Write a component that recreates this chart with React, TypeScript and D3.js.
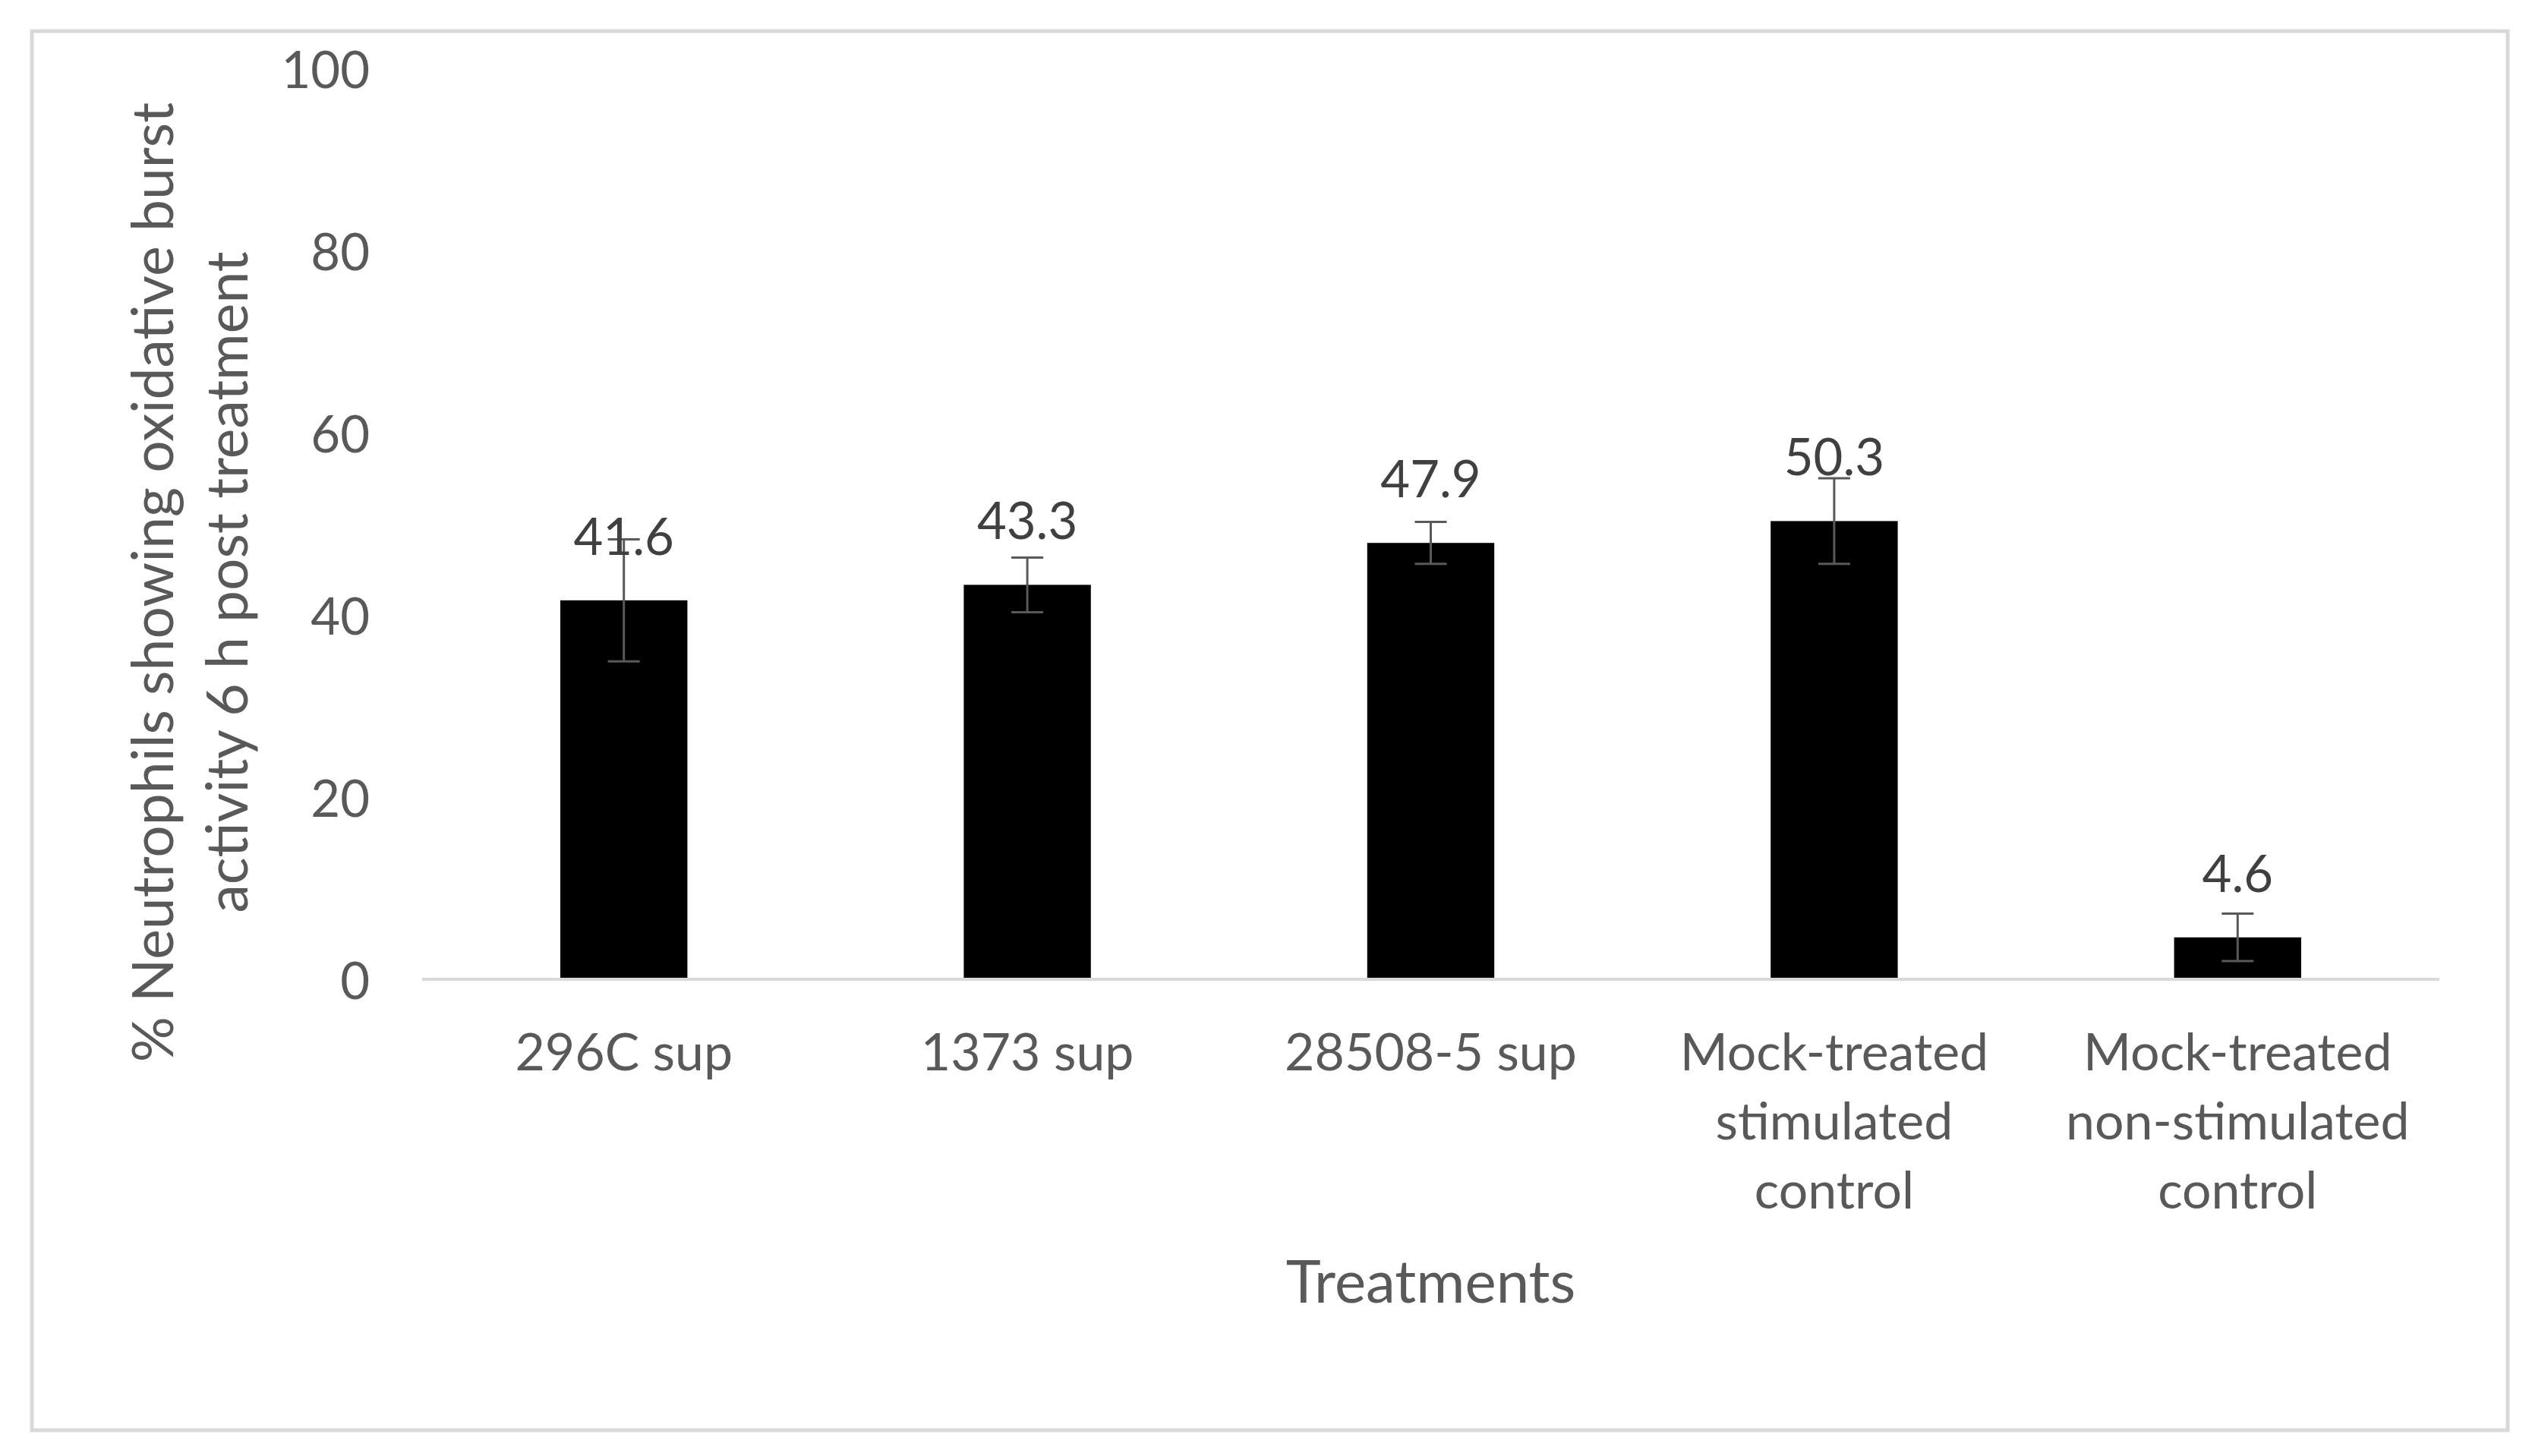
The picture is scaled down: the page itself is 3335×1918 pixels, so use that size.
import React from "react";
import * as d3 from "d3";

const categories = [
  "296C sup",
  "1373 sup",
  "28508-5 sup",
  "Mock-treated stimulated control",
  "Mock-treated non-stimulated control",
];
const categoryLines = [
  ["296C sup"],
  ["1373 sup"],
  ["28508-5 sup"],
  ["Mock-treated", "stimulated", "control"],
  ["Mock-treated", "non-stimulated", "control"],
];
const values = [41.6, 43.3, 47.9, 50.3, 4.6];
const errors = [6.7, 3.0, 2.3, 4.7, 2.6];
const yTicks = [0, 20, 40, 60, 80, 100];
const yTitleLines = ["% Neutrophils showing oxidative burst", "activity 6 h post treatment"];
const xTitle = "Treatments";

const W = 3335;
const H = 1918;
const FONT = "Lato, 'Liberation Sans', sans-serif";

export default function App() {
  const x = d3
    .scaleBand<string>()
    .domain(categories)
    .range([556, 3213])
    .paddingInner(0.685)
    .paddingOuter(0.3425);
  const y = d3.scaleLinear().domain([0, 100]).range([1290, 90]);
  const bw = x.bandwidth();
  const capW = 42;

  return (
    <svg
      width={W}
      height={H}
      style={{ position: "absolute", left: 0, top: 0, background: "#fff" }}
      fontFamily={FONT}
    >
      <rect x={0} y={0} width={W} height={H} fill="#fff" />
      <rect x={42} y={41} width={3261} height={1843} fill="#fff" stroke="#d9d9d9" strokeWidth={5} />

      {/* y tick labels */}
      {yTicks.map((t) => (
        <text
          key={t}
          x={487}
          y={y(t)}
          textAnchor="end"
          dominantBaseline="central"
          fontSize={67}
          fill="#595959"
        >
          {t}
        </text>
      ))}

      {/* bars */}
      {categories.map((c, i) => (
        <rect key={c} x={x(c)!} y={y(values[i])} width={bw} height={y(0) - y(values[i])} fill="#000" />
      ))}

      {/* zero axis line */}
      <line x1={x.range()[0]} x2={x.range()[1]} y1={y(0)} y2={y(0)} stroke="#d9d9d9" strokeWidth={4} />

      {/* error bars */}
      {categories.map((c, i) => {
        const cx = x(c)! + bw / 2;
        const top = y(values[i] + errors[i]);
        const bot = y(values[i] - errors[i]);
        return (
          <g key={"e" + c} stroke="#595959" strokeWidth={3}>
            <line x1={cx} x2={cx} y1={top} y2={bot} />
            <line x1={cx - capW / 2} x2={cx + capW / 2} y1={top} y2={top} />
            <line x1={cx - capW / 2} x2={cx + capW / 2} y1={bot} y2={bot} />
          </g>
        );
      })}

      {/* data labels */}
      {categories.map((c, i) => (
        <text
          key={"l" + c}
          x={x(c)! + bw / 2}
          y={y(values[i]) - 60}
          textAnchor="middle"
          fontSize={67}
          fill="#404040"
        >
          {values[i].toFixed(1)}
        </text>
      ))}

      {/* category labels */}
      {categories.map((c, i) => (
        <text key={"c" + c} textAnchor="middle" fontSize={68} fill="#595959">
          {categoryLines[i].map((ln, j) => (
            <tspan key={j} x={x(c)! + bw / 2} y={1410 + j * 91}>
              {ln}
            </tspan>
          ))}
        </text>
      ))}

      {/* x title */}
      <text x={(x.range()[0] + x.range()[1]) / 2} y={1716} textAnchor="middle" fontSize={78} fill="#595959">
        {xTitle}
      </text>

      {/* y title */}
      <text transform="translate(0,767) rotate(-90)" textAnchor="middle" fontSize={75} fill="#595959">
        {yTitleLines.map((ln, j) => (
          <tspan key={j} x={0} y={228 + j * 98}>
            {ln}
          </tspan>
        ))}
      </text>
    </svg>
  );
}
